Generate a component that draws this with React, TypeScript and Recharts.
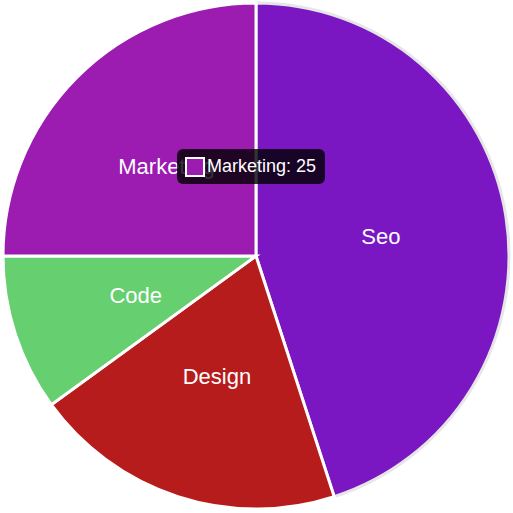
import React from 'react'
import { PieChart, Pie, Cell, Tooltip } from 'recharts'

const LABELS = ['Seo', 'Design', 'Code', 'Marketing']
const VALUES = [45, 20, 10, 25]
const COLORS = ['#7a17c3', '#b71c1c', '#66cf6f', '#9c1bb1']
const BORDERS = ['#e6e6e6', '#fff', '#fff', '#fff']

const data = LABELS.map((name, i) => ({ name, value: VALUES[i] }))

const RADIAN = Math.PI / 180
const FONT = "'Liberation Sans', Arial, sans-serif"

const renderLabel = (props: any) => {
  const { cx, cy, midAngle, outerRadius, name } = props
  const r = outerRadius * 0.5
  const x = cx + r * Math.cos(-midAngle * RADIAN)
  const y = cy + r * Math.sin(-midAngle * RADIAN)
  return (
    <text
      x={x}
      y={y}
      fill="#fff"
      textAnchor="middle"
      dominantBaseline="central"
      fontSize={22}
      fontFamily={FONT}
    >
      {name}
    </text>
  )
}

const TipBox = ({ active, payload }: any) => {
  if (!active || !payload || !payload.length) return null
  const p = payload[0]
  const idx = LABELS.indexOf(p.name)
  return (
    <div
      style={{
        background: 'rgba(0,0,0,0.8)',
        borderRadius: 6,
        padding: '0 9px 0 8px',
        display: 'flex',
        alignItems: 'center',
        color: '#fff',
        fontFamily: FONT,
        fontSize: 18,
        whiteSpace: 'nowrap',
        height: 35,
        boxSizing: 'border-box',
      }}
    >
      <span
        style={{
          display: 'inline-block',
          width: 16,
          height: 16,
          background: COLORS[idx],
          border: '2px solid #fff',
          marginRight: 2,
        }}
      />
      {p.name}: {p.value}
    </div>
  )
}

const App = () => {
  return (
    <div style={{ position: 'absolute', left: 0, top: 0 }}>
      <PieChart width={513} height={513} margin={{ top: 0, right: 0, bottom: 0, left: 0 }}>
        <Pie
          data={data}
          dataKey="value"
          nameKey="name"
          cx={256}
          cy={256}
          outerRadius={253}
          startAngle={90}
          endAngle={-270}
          stroke="#fff"
          strokeWidth={3}
          label={renderLabel}
          labelLine={false}
          isAnimationActive={false}
        >
          {data.map((entry, index) => (
            <Cell key={`cell-${index}`} fill={COLORS[index]} stroke={BORDERS[index]} />
          ))}
        </Pie>
        <Tooltip
          content={<TipBox />}
          defaultIndex={3}
          active={true}
          position={{ x: 177, y: 149 }}
          isAnimationActive={false}
        />
      </PieChart>
    </div>
  )
}

export default App
